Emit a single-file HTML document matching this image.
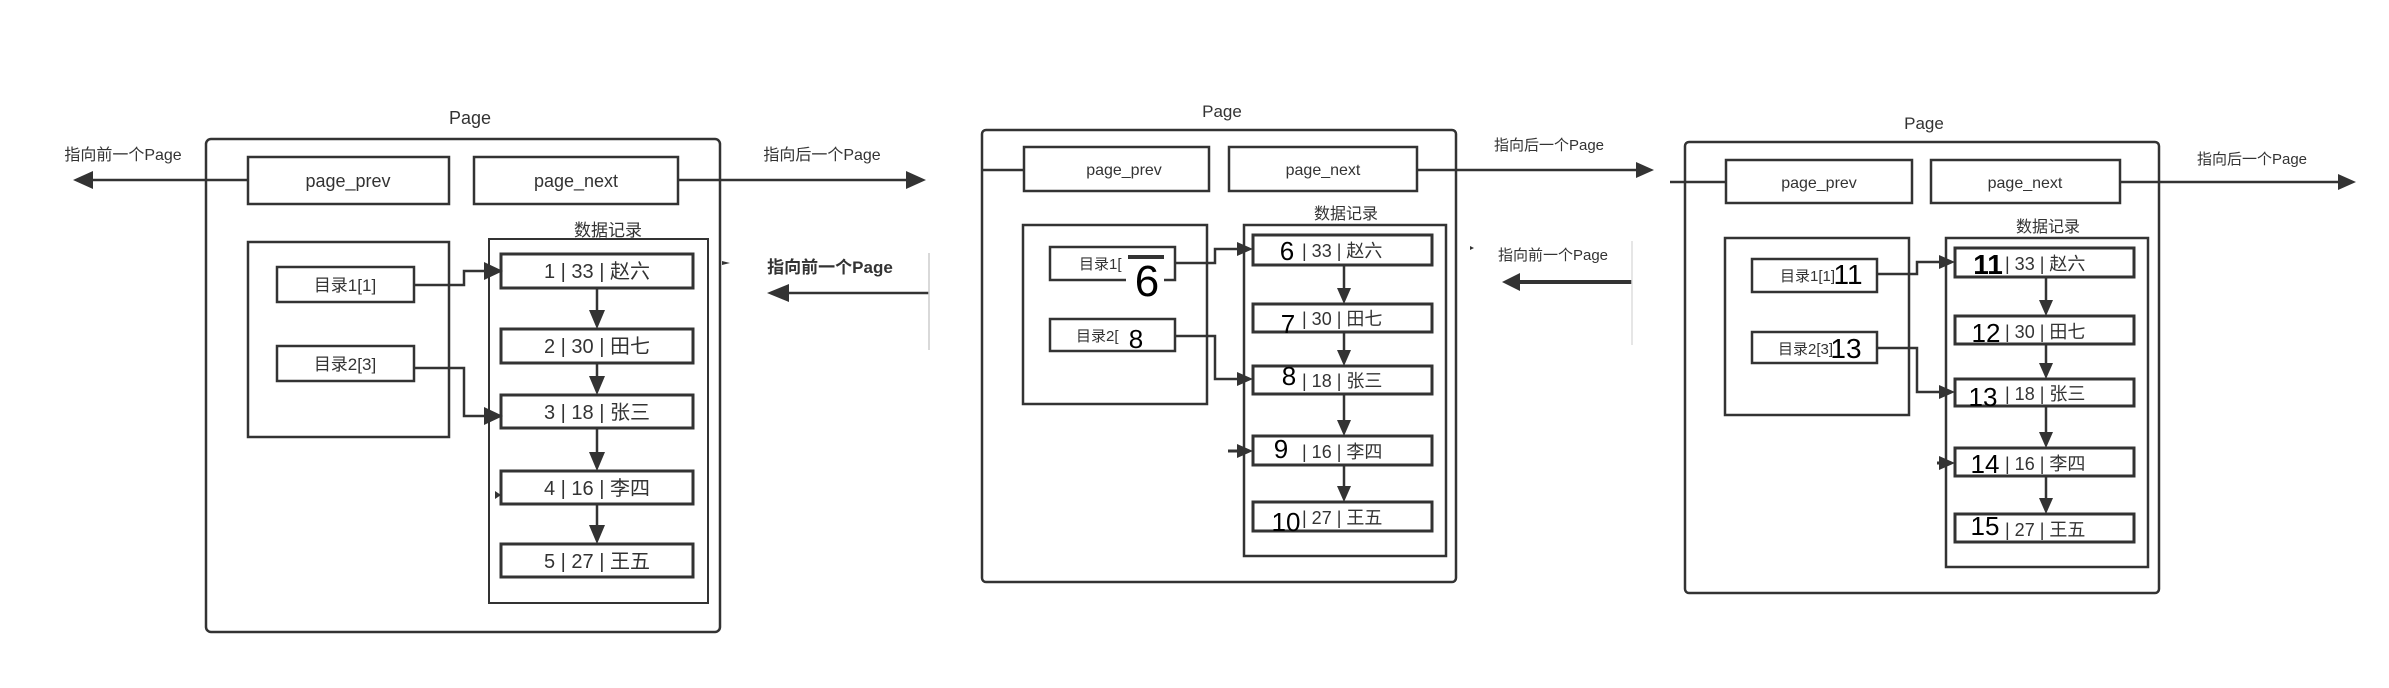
<!DOCTYPE html>
<html><head><meta charset="utf-8"><style>
html,body{margin:0;padding:0;background:#fff}
svg{display:block}
text{font-family:"Liberation Sans","Noto Sans CJK SC",sans-serif;fill:#333}
.ov{fill:#000;font-family:"Liberation Sans",sans-serif}
</style></head><body>
<svg width="2389" height="688" viewBox="0 0 2389 688" xmlns="http://www.w3.org/2000/svg">
<g fill="none" stroke="#333" stroke-width="2.5">
<!-- Panel 1 -->
<rect x="206" y="139" width="514" height="493" rx="5"/>
<rect x="248" y="157" width="201" height="47"/>
<rect x="474" y="157" width="204" height="47"/>
<rect x="248" y="242" width="201" height="195"/>
<rect x="277" y="267" width="137" height="35"/>
<rect x="277" y="346" width="137" height="35"/>
<rect x="489" y="239" width="219" height="364" stroke-width="2"/>
<rect x="501" y="254" width="192" height="34" stroke-width="3"/>
<rect x="501" y="329" width="192" height="34" stroke-width="3"/>
<rect x="501" y="395" width="192" height="33" stroke-width="3"/>
<rect x="501" y="471" width="192" height="33" stroke-width="3"/>
<rect x="501" y="544" width="192" height="33" stroke-width="3"/>
<line x1="88" y1="180" x2="248" y2="180"/>
<line x1="678" y1="180" x2="910" y2="180"/>
<line x1="597" y1="288" x2="597" y2="312"/>
<line x1="597" y1="363" x2="597" y2="379"/>
<line x1="597" y1="428" x2="597" y2="455"/>
<line x1="597" y1="504" x2="597" y2="528"/>
<polyline points="414,285 464,285 464,271 488,271"/>
<polyline points="414,368 464,368 464,416 488,416"/>
<line x1="785" y1="293" x2="929" y2="293"/>
<line x1="929" y1="253" x2="929" y2="350" stroke="#ccc" stroke-width="1.5"/>
<!-- Panel 2 -->
<rect x="982" y="130" width="474" height="452" rx="4"/>
<rect x="1024" y="147" width="185" height="44"/>
<rect x="1229" y="147" width="188" height="44"/>
<rect x="1023" y="225" width="184" height="179"/>
<rect x="1050" y="247" width="125" height="33"/>
<rect x="1050" y="319" width="125" height="32"/>
<rect x="1244" y="225" width="202" height="331"/>
<rect x="1253" y="235" width="179" height="30" stroke-width="3"/>
<rect x="1253" y="304" width="179" height="28" stroke-width="3"/>
<rect x="1253" y="366" width="179" height="28" stroke-width="3"/>
<rect x="1253" y="436" width="179" height="29" stroke-width="3"/>
<rect x="1253" y="502" width="179" height="29" stroke-width="3"/>
<line x1="982" y1="170" x2="1024" y2="170"/>
<line x1="1417" y1="170" x2="1638" y2="170"/>
<line x1="1344" y1="265" x2="1344" y2="290"/>
<line x1="1344" y1="332" x2="1344" y2="352"/>
<line x1="1344" y1="394" x2="1344" y2="422"/>
<line x1="1344" y1="465" x2="1344" y2="488"/>
<polyline points="1175,263 1215,263 1215,249 1240,249"/>
<polyline points="1175,336 1215,336 1215,379 1240,379"/>
<line x1="1517" y1="282" x2="1632" y2="282" stroke-width="4"/>
<line x1="1632" y1="241" x2="1632" y2="345" stroke="#ddd" stroke-width="1.5"/>
<!-- Panel 3 -->
<rect x="1685" y="142" width="474" height="451" rx="4"/>
<rect x="1726" y="160" width="186" height="43"/>
<rect x="1931" y="160" width="189" height="43"/>
<rect x="1725" y="238" width="184" height="177"/>
<rect x="1752" y="259" width="125" height="33"/>
<rect x="1752" y="332" width="125" height="31"/>
<rect x="1946" y="238" width="202" height="329"/>
<rect x="1955" y="248" width="179" height="29" stroke-width="3"/>
<rect x="1955" y="316" width="179" height="28" stroke-width="3"/>
<rect x="1955" y="379" width="179" height="27" stroke-width="3"/>
<rect x="1955" y="448" width="179" height="28" stroke-width="3"/>
<rect x="1955" y="514" width="179" height="28" stroke-width="3"/>
<line x1="1670" y1="182" x2="1726" y2="182"/>
<line x1="2120" y1="182" x2="2340" y2="182"/>
<line x1="2046" y1="277" x2="2046" y2="302"/>
<line x1="2046" y1="344" x2="2046" y2="366"/>
<line x1="2046" y1="406" x2="2046" y2="434"/>
<line x1="2046" y1="476" x2="2046" y2="500"/>
<polyline points="1877,274 1917,274 1917,262 1942,262"/>
<polyline points="1877,348 1917,348 1917,392 1942,392"/>
</g>
<g fill="#333">
<!-- P1 arrowheads -->
<polygon points="73,180 93,171 93,189"/>
<polygon points="926,180 906,171 906,189"/>
<polygon points="597,329 589,310 605,310"/>
<polygon points="597,395 589,376 605,376"/>
<polygon points="597,471 589,452 605,452"/>
<polygon points="597,544 589,525 605,525"/>
<polygon points="503,271 484,262 484,280"/>
<polygon points="503,416 484,407 484,425"/>
<polygon points="501,495 495,491 495,499"/>
<polygon points="767,293 789,284 789,302"/>
<polygon points="722,261 730,263 722,265"/>
<!-- P2 -->
<polygon points="1654,170 1636,162 1636,178"/>
<polygon points="1344,304 1337,288 1351,288"/>
<polygon points="1344,366 1337,350 1351,350"/>
<polygon points="1344,436 1337,420 1351,420"/>
<polygon points="1344,502 1337,486 1351,486"/>
<polygon points="1253,249 1237,242 1237,256"/>
<polygon points="1253,379 1237,372 1237,386"/>
<polygon points="1253,451 1237,444 1237,458"/>
<line x1="1228" y1="451" x2="1240" y2="451" stroke="#333" stroke-width="3"/>
<polygon points="1502,282 1520,273 1520,291"/>
<polygon points="1470,246 1474,248 1470,250"/>
<!-- P3 -->
<polygon points="2356,182 2338,174 2338,190"/>
<polygon points="2046,316 2039,300 2053,300"/>
<polygon points="2046,379 2039,363 2053,363"/>
<polygon points="2046,448 2039,432 2053,432"/>
<polygon points="2046,514 2039,498 2053,498"/>
<polygon points="1955,262 1939,255 1939,269"/>
<polygon points="1955,392 1939,385 1939,399"/>
<polygon points="1955,463 1939,456 1939,470"/>
<line x1="1937" y1="463" x2="1942" y2="463" stroke="#333" stroke-width="3"/>
<polygon points="1640,170 1644,171 1640,172"/>
</g>
<!-- Panel 1 text -->
<text x="470" y="124" font-size="18" text-anchor="middle">Page</text>
<text x="123" y="160" font-size="16" text-anchor="middle">指向前一个Page</text>
<text x="822" y="160" font-size="16" text-anchor="middle">指向后一个Page</text>
<text x="830" y="273" font-size="17" text-anchor="middle" font-weight="bold" fill="#555">指向前一个Page</text>
<text x="348" y="187" font-size="18" text-anchor="middle">page_prev</text>
<text x="576" y="187" font-size="18" text-anchor="middle">page_next</text>
<text x="608" y="236" font-size="17" text-anchor="middle">数据记录</text>
<text x="345" y="291" font-size="17" text-anchor="middle">目录1[1]</text>
<text x="345" y="370" font-size="17" text-anchor="middle">目录2[3]</text>
<g font-size="20" text-anchor="middle">
<text x="597" y="278">1 | 33 | 赵六</text>
<text x="597" y="353">2 | 30 | 田七</text>
<text x="597" y="419">3 | 18 | 张三</text>
<text x="597" y="495">4 | 16 | 李四</text>
<text x="597" y="568">5 | 27 | 王五</text>
</g>
<!-- Panel 2 text -->
<text x="1222" y="117" font-size="17" text-anchor="middle">Page</text>
<text x="1124" y="175" font-size="16" text-anchor="middle">page_prev</text>
<text x="1323" y="175" font-size="16" text-anchor="middle">page_next</text>
<text x="1549" y="150" font-size="15" text-anchor="middle">指向后一个Page</text>
<text x="1553" y="260" font-size="15" text-anchor="middle">指向前一个Page</text>
<text x="1346" y="219" font-size="16" text-anchor="middle">数据记录</text>
<text x="1079" y="269" font-size="15">目录1[</text>
<text x="1076" y="341" font-size="15">目录2[</text>
<g font-size="18">
<text x="1302" y="257">| 33 | 赵六</text>
<text x="1302" y="325">| 30 | 田七</text>
<text x="1302" y="387">| 18 | 张三</text>
<text x="1302" y="458">| 16 | 李四</text>
<text x="1302" y="524">| 27 | 王五</text>
</g>
<rect x="1126" y="256" width="38" height="42" fill="#fff"/>
<rect x="1128" y="255" width="36" height="4" fill="#333"/>
<g class="ov" text-anchor="middle">
<text class="ov" x="1147" y="296" font-size="44">6</text>
<text class="ov" x="1287" y="260" font-size="26">6</text>
<text class="ov" x="1288" y="333" font-size="26">7</text>
<text class="ov" x="1289" y="385" font-size="26">8</text>
<text class="ov" x="1136" y="348" font-size="26">8</text>
<text class="ov" x="1281" y="458" font-size="26">9</text>
<text class="ov" x="1286" y="531" font-size="26">10</text>
</g>
<!-- Panel 3 text -->
<text x="1924" y="129" font-size="17" text-anchor="middle">Page</text>
<text x="1819" y="188" font-size="16" text-anchor="middle">page_prev</text>
<text x="2025" y="188" font-size="16" text-anchor="middle">page_next</text>
<text x="2252" y="164" font-size="15" text-anchor="middle">指向后一个Page</text>
<text x="2048" y="232" font-size="16" text-anchor="middle">数据记录</text>
<text x="1780" y="281" font-size="15">目录1[1]</text>
<text x="1778" y="354" font-size="15">目录2[3]</text>
<g font-size="18">
<text x="2005" y="270">| 33 | 赵六</text>
<text x="2005" y="338">| 30 | 田七</text>
<text x="2005" y="400">| 18 | 张三</text>
<text x="2005" y="470">| 16 | 李四</text>
<text x="2005" y="536">| 27 | 王五</text>
</g>
<g class="ov" text-anchor="middle">
<text class="ov" x="1988" y="274" font-size="28" font-weight="bold">11</text>
<text class="ov" x="1848" y="284" font-size="28">11</text>
<text class="ov" x="1986" y="342" font-size="26">12</text>
<text class="ov" x="1846" y="358" font-size="28">13</text>
<text class="ov" x="1983" y="406" font-size="26">13</text>
<text class="ov" x="1985" y="473" font-size="26">14</text>
<text class="ov" x="1985" y="535" font-size="26">15</text>
</g>
</svg>
</body></html>
